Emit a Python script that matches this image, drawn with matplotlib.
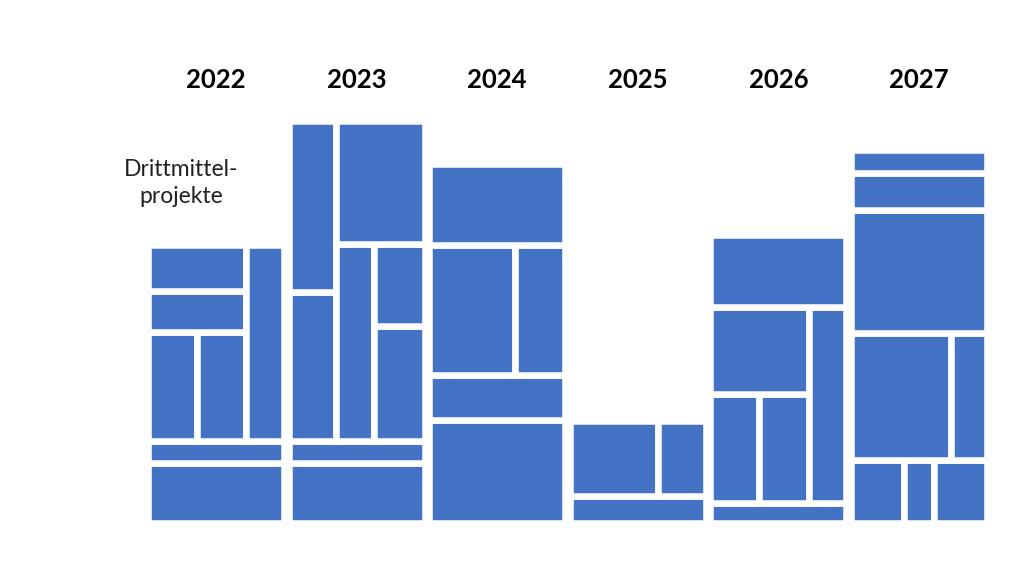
import matplotlib
matplotlib.use('Agg')
import matplotlib.pyplot as plt
from matplotlib.patches import Rectangle

# Drittmittelprojekte per year, as nested blocks
# ('v', [(size, child), ...]) stacks bottom -> top, ('h', [...]) left -> right, None = one project
years = ['2022', '2023', '2024', '2025', '2026', '2027']

blocks2022 = ('v', [(60, None), (22, None),
                    (196, ('h', [(98, ('v', [(109, ('h', [(49, None), (49, None)])),
                                             (41, None), (46, None)])),
                                 (38, None)]))])
blocks2023 = ('v', [(60, None), (22, None),
                    (320, ('h', [(46.5, ('v', [(149.5, None), (170.5, None)])),
                                 (87.5, ('v', [(197, ('h', [(38, None),
                                                            (49.5, ('v', [(115, None), (82, None)]))])),
                                               (123, None)]))]))])
blocks2024 = ('v', [(103, None), (45, None),
                    (130.5, ('h', [(85.5, None), (50.5, None)])),
                    (81, None)])
blocks2025 = ('v', [(27.5, None),
                    (74.5, ('h', [(87.5, None), (47.5, None)]))])
blocks2026 = ('v', [(20, None),
                    (196.5, ('h', [(97.5, ('v', [(109.5, ('h', [(48, None), (49.5, None)])),
                                                 (87, None)])),
                                   (37.5, None)])),
                    (71.5, None)])
blocks2027 = ('v', [(63, ('h', [(53, None), (30, None), (53, None)])),
                    (127.5, ('h', [(100, None), (36, None)])),
                    (122.5, None), (37.5, None), (22.5, None)])

alle_bloecke = [blocks2022, blocks2023, blocks2024, blocks2025, blocks2026, blocks2027]
label = 'Drittmittel-\nprojekte'

farbe = '#4472C4'
breite = 0.967


def zeichne(ax, node, x0, y0, w, h):
    if node is None:
        ax.add_patch(Rectangle((x0, y0), w, h, facecolor=farbe,
                               edgecolor='white', linewidth=4.7))
        return
    richtung, kinder = node
    total = sum(s for s, _ in kinder)
    pos = 0
    for s, kind in kinder:
        if richtung == 'v':
            zeichne(ax, kind, x0, y0 + h * pos / total, w, h * s / total)
        else:
            zeichne(ax, kind, x0 + w * pos / total, y0, w * s / total, h)
        pos += s


fig = plt.figure(figsize=(10.24, 5.76), dpi=100)
ax = fig.add_axes([0, 0, 1, 1])

for i, (jahr, b) in enumerate(zip(years, alle_bloecke)):
    hoehe = sum(s for s, _ in b[1])
    zeichne(ax, b, i - breite / 2, 0, breite, hoehe)
    ax.text(i, 443, jahr, ha='center', va='center', fontsize=18.5,
            fontweight='bold', family='Lato', color='black')

ax.text(-0.245, 340, label, ha='center', va='center', fontsize=16.5,
        family='Lato', linespacing=1.4, color='#222222')

ax.set_xlim(-216 / 140.6, (1024 - 216) / 140.6)
ax.set_ylim(-53, 523)
ax.axis('off')

fig.savefig('out.png', dpi=100, facecolor='white')
